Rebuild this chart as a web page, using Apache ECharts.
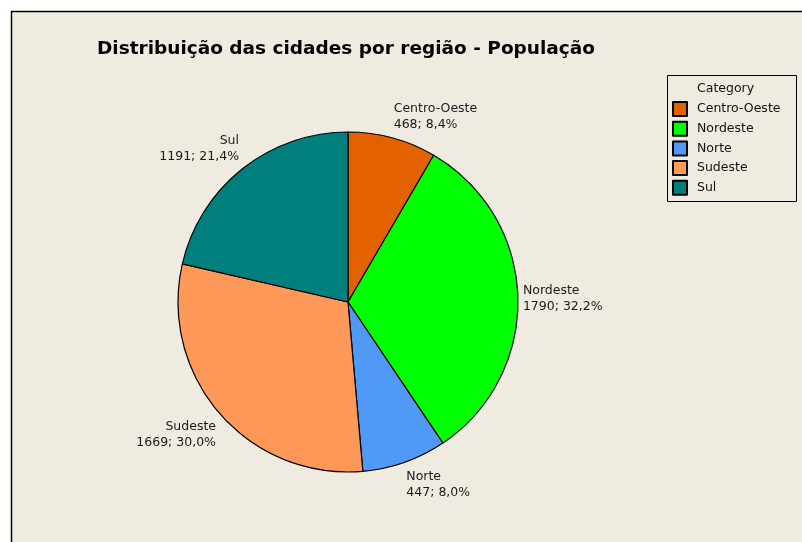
<!DOCTYPE html>
<html>
<head>
<meta charset="utf-8">
<script src="https://cdn.jsdelivr.net/npm/echarts@6/dist/echarts.min.js"></script>
<style>
  html, body { margin: 0; padding: 0; background: #fff; }
  #pie { width: 802px; height: 542px; }
</style>
</head>
<body>
<div id="pie"></div>
<script>
// dados
var categories = ['Centro-Oeste', 'Nordeste', 'Norte', 'Sudeste', 'Sul'];
var values = [468, 1790, 447, 1669, 1191];
var colors = ['#E46100', '#00FF00', '#5099F7', '#FF9858', '#007F7F'];

var total = 0;
for (var i = 0; i < values.length; i++) total += values[i];

var center = [348, 302];
var radius = 170;

function pct(v) {
    return (v / total * 100).toFixed(1).replace('.', ',') + '%';
}

// angulo medio de cada fatia (a partir do topo, sentido horario)
function midAngle(idx) {
    var acc = 0;
    for (var i = 0; i < idx; i++) acc += values[i];
    return (acc + values[idx] / 2) / total * Math.PI * 2;
}

var data = [];
for (var i = 0; i < categories.length; i++) {
    data.push({name: categories[i], value: values[i], itemStyle: {color: colors[i]}});
}

var chart = echarts.init(document.getElementById('pie'));
var font = '"DejaVu Sans", Verdana, sans-serif';

option = {
    backgroundColor: '#ffffff',
    animation: false,
    title: {
        text: 'Distribuição das cidades por região - População',
        left: 346,
        textAlign: 'center',
        top: 40,
        padding: 0,
        textStyle: {
            fontFamily: font,
            fontWeight: 'bold',
            fontSize: 18.5,
            color: '#000'
        }
    },
    graphic: [
        {
            type: 'rect',
            z: -10,
            shape: {x: 11.5, y: 11.5, width: 900, height: 700},
            style: {fill: '#EFEBE1', stroke: '#000', lineWidth: 1.5}
        },
        {
            type: 'rect',
            z: -5,
            shape: {x: 667.5, y: 75.5, width: 129, height: 126},
            style: {fill: '#EFEBE1', stroke: '#000', lineWidth: 1}
        },
        {
            type: 'text',
            x: 697,
            y: 82,
            style: {text: 'Category', fill: '#111', font: '12.5px ' + font}
        }
    ],
    legend: {
        orient: 'vertical',
        left: 672,
        top: 101,
        padding: 0,
        itemWidth: 14,
        itemHeight: 14,
        itemGap: 3.7,
        icon: 'rect',
        data: categories,
        textStyle: {
            fontFamily: font,
            fontSize: 12.5,
            color: '#111',
            padding: [0, 0, 0, 5]
        }
    },
    series: [
        {
            type: 'pie',
            center: center,
            radius: radius,
            startAngle: 90,
            clockwise: true,
            data: data,
            itemStyle: {
                borderColor: '#000',
                borderWidth: 1.2
            },
            emphasis: {disabled: true},
            label: {
                show: true,
                position: 'outside',
                fontFamily: font,
                fontSize: 12.5,
                lineHeight: 16,
                color: '#1a1a1a',
                formatter: function (p) {
                    return p.name + '\n' + p.value + '; ' + pct(p.value);
                }
            },
            labelLine: {show: false, length: 0, length2: 0},
            labelLayout: function (p) {
                var a = midAngle(p.dataIndex);
                var s = Math.sin(a), c = Math.cos(a);
                var gap = 5;
                var x = center[0] + (radius + gap) * s;
                var y = center[1] - (radius + gap) * c;
                var va = 'middle';
                if (c > 0.4) va = 'bottom';
                else if (c < -0.4) { va = 'top'; y += 2; }
                else y += 2;
                return {
                    x: x,
                    y: y,
                    align: s >= 0 ? 'left' : 'right',
                    verticalAlign: va
                };
            }
        }
    ]
};
chart.setOption(option);
</script>
</body>
</html>
